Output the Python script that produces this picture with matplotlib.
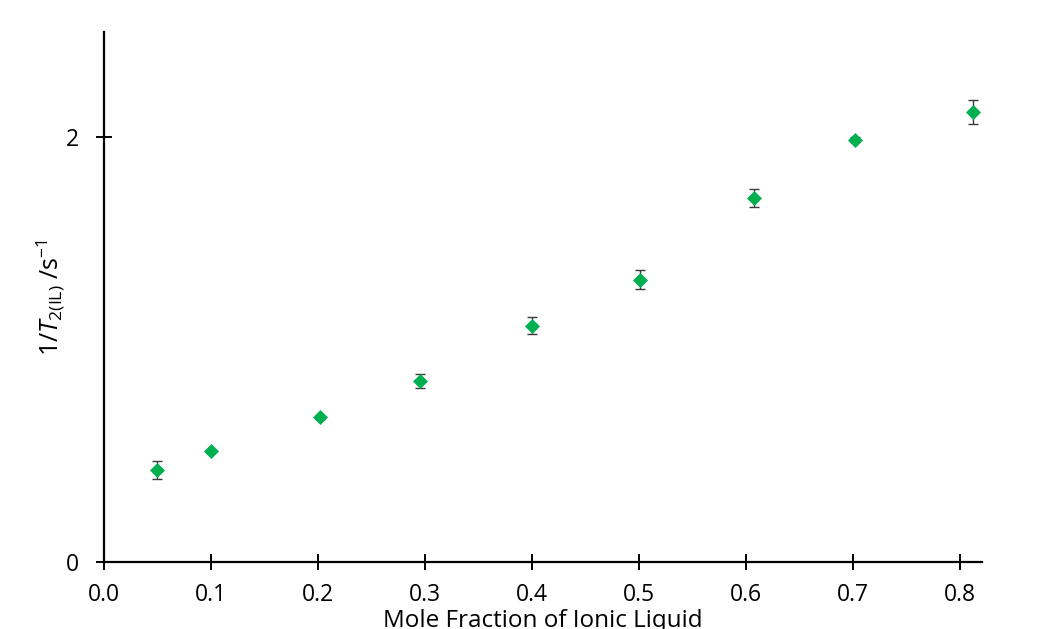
import matplotlib
matplotlib.use("Agg")
import matplotlib.pyplot as plt

plt.rcParams["font.family"] = ["Open Sans", "DejaVu Sans"]
plt.rcParams["mathtext.fontset"] = "custom"
plt.rcParams["mathtext.rm"] = "Open Sans"
plt.rcParams["mathtext.it"] = "Open Sans:italic"

# mole fraction of ionic liquid vs. relaxation rate 1/T2
mole_frac = [0.050, 0.100, 0.202, 0.295, 0.400, 0.501, 0.607, 0.702, 0.812]
rate = [0.434, 0.525, 0.682, 0.853, 1.112, 1.328, 1.713, 1.987, 2.118]
rate_err = [0.044, 0.004, 0.006, 0.034, 0.041, 0.045, 0.041, 0.012, 0.056]

x_ticks = [0.0, 0.1, 0.2, 0.3, 0.4, 0.5, 0.6, 0.7, 0.8]
y_ticks = [0, 2]

GREEN = "#00B050"
INK = "#000000"

fig = plt.figure(figsize=(10.5, 6.29), dpi=100)
ax = fig.add_axes([0.099, 0.106, 0.836, 0.8435])

# error bars first, diamonds on top
ax.errorbar(mole_frac, rate, yerr=rate_err, fmt="none", ecolor="#3a3a3a",
            elinewidth=1.0, capsize=3.5, capthick=1.0, zorder=2)
ax.plot(mole_frac, rate, "D", color=GREEN, markersize=7,
        markeredgecolor=GREEN, markeredgewidth=0.5, zorder=3)

ax.set_xlim(0, 0.82)
ax.set_ylim(0, 2.494)
ax.set_xticks(x_ticks)
ax.set_xticklabels([f"{v:.1f}" for v in x_ticks])
ax.set_yticks(y_ticks)
ax.set_yticklabels([str(v) for v in y_ticks])

for side in ("top", "right"):
    ax.spines[side].set_visible(False)
for side in ("left", "bottom"):
    ax.spines[side].set_linewidth(1.6)
    ax.spines[side].set_color(INK)

ax.tick_params(axis="both", direction="inout", length=11.5, width=1.4,
               labelsize=16.5, colors=INK)
ax.tick_params(axis="x", pad=9)
ax.tick_params(axis="y", pad=12)

ax.set_xlabel("Mole Fraction of Ionic Liquid", fontsize=17.5, va="top")
ax.xaxis.set_label_coords(0.4996, -0.088)
ax.set_ylabel(r"1/$\mathit{T}_{2\mathrm{(IL)}}$ /s$^{-1}$", fontsize=18)
ax.yaxis.set_label_coords(-0.042, 0.5)

fig.savefig("out.png", dpi=100)
